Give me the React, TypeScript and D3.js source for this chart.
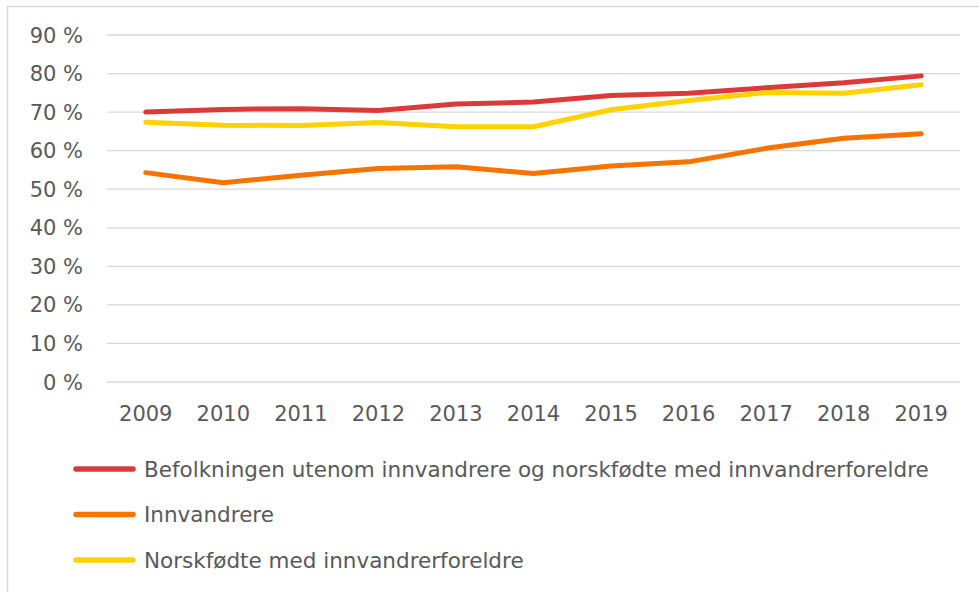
import React from 'react';
import * as d3 from 'd3';

const years = ['2009', '2010', '2011', '2012', '2013', '2014', '2015', '2016', '2017', '2018', '2019'];
const befolkningen = [70.0, 70.7, 70.9, 70.4, 72.1, 72.6, 74.3, 74.9, 76.3, 77.6, 79.4];
const innvandrere = [54.3, 51.7, 53.6, 55.4, 55.8, 54.1, 56.0, 57.1, 60.6, 63.2, 64.4];
const norskfodte = [67.4, 66.6, 66.5, 67.3, 66.2, 66.2, 70.6, 73.0, 75.1, 74.9, 77.1];
const yTicks = [0, 10, 20, 30, 40, 50, 60, 70, 80, 90];

const series = [
  { name: 'Befolkningen utenom innvandrere og norskfødte med innvandrerforeldre', values: befolkningen, color: '#da3b38' },
  { name: 'Innvandrere', values: innvandrere, color: '#f77300' },
  { name: 'Norskfødte med innvandrerforeldre', values: norskfodte, color: '#ffd200' },
];

const App = () => {
  const width = 979;
  const height = 592;
  const margin = { left: 107, right: 19, top: 35, bottom: 210 };
  const font = 'DejaVu Sans, Verdana, sans-serif';
  const textColor = '#595959';

  const x = d3.scalePoint<string>()
    .domain(years)
    .range([margin.left, width - margin.right])
    .padding(0.5);

  const y = d3.scaleLinear()
    .domain([0, 90])
    .range([height - margin.bottom, margin.top]);

  const line = d3.line<number>()
    .x((_, i) => x(years[i]) as number)
    .y(d => y(d));

  return (
    <svg width={width} height={height} style={{ position: 'absolute', left: 0, top: 0 }}>
      <rect x={7.5} y={6.5} width={width} height={height} fill="#fff" stroke="#d9d9d9" strokeWidth={1.5} />
      {yTicks.map(t => (
        <g key={t}>
          <line x1={margin.left} x2={width - margin.right} y1={y(t)} y2={y(t)} stroke="#d9d9d9" strokeWidth={1.3} />
          <text x={83} y={y(t)} dy="0.36em" textAnchor="end" fontFamily={font} fontSize={21} fill={textColor}>
            {t} %
          </text>
        </g>
      ))}
      {years.map(yr => (
        <text key={yr} x={x(yr)} y={413} dy="0.36em" textAnchor="middle" fontFamily={font} fontSize={21} fill={textColor}>
          {yr}
        </text>
      ))}
      {series.map(s => (
        <path key={s.name} d={line(s.values) || ''} fill="none" stroke={s.color} strokeWidth={5}
          strokeLinecap="round" strokeLinejoin="round" />
      ))}
      {series.map((s, i) => (
        <g key={s.name} transform={`translate(0, ${469 + i * 45.5})`}>
          <line x1={76} x2={133} y1={0} y2={0} stroke={s.color} strokeWidth={5.5} strokeLinecap="round" />
          <text x={144} y={0} dy="0.36em" fontFamily={font} fontSize={21.5} fill={textColor}>
            {s.name}
          </text>
        </g>
      ))}
    </svg>
  );
};

export default App;
